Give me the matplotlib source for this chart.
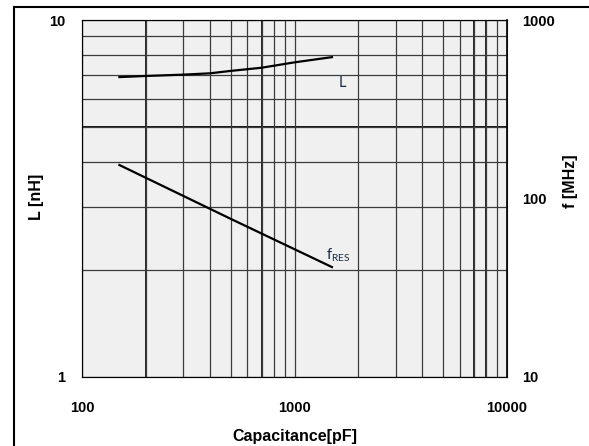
import numpy as np
import matplotlib.pyplot as plt
from matplotlib.lines import Line2D
from matplotlib.ticker import NullFormatter, LogLocator

# data
cap_L = [150, 200, 300, 400, 500, 700, 1000, 1500]
ind_L = [6.92, 6.97, 7.03, 7.09, 7.2, 7.35, 7.61, 7.87]

cap_f = [150, 500, 1500]
f_res = [154, 77, 41.3]

plt.rcParams['mathtext.fontset'] = 'custom'
plt.rcParams['mathtext.rm'] = 'Lato'

fig = plt.figure(figsize=(5.89, 4.46), dpi=100)
ax = fig.add_axes([82/589, 1 - 377/446, 425/589, 357/446])
ax2 = ax.twinx()

ax.set_facecolor('#f0f0f0')
ax.set_xscale('log')
ax.set_yscale('log')
ax.set_xlim(100, 10000)
ax.set_ylim(1, 10)
ax2.set_yscale('log')
ax2.set_ylim(10, 1000)

# ticks
tick_font = dict(family='Liberation Sans', weight='bold', size=10.5)
ax.set_xticks([100, 1000, 10000])
ax.set_xticklabels(['100', '1000', '10000'], **tick_font)
ax.set_yticks([1, 10])
ax.set_yticklabels(['1', '10'], **tick_font)
ax2.set_yticks([10, 100, 1000])
ax2.set_yticklabels(['10', '100', '1000'], **tick_font)
for a in [ax.xaxis, ax.yaxis]:
    a.set_minor_locator(LogLocator(base=10, subs=np.arange(2, 10)))
    a.set_minor_formatter(NullFormatter())
ax2.yaxis.set_minor_locator(LogLocator(base=10, subs=[]))
ax2.yaxis.set_minor_formatter(NullFormatter())
ax.tick_params(axis='both', which='both', length=0)
ax.tick_params(axis='x', pad=17)
ax.tick_params(axis='y', pad=12)
ax2.tick_params(axis='y', which='both', length=0, pad=11)

# grid
ax.grid(True, which='both', color='#3c3c3c', linewidth=0.9)
for c in [200, 700, 7000, 8000]:
    ax.axvline(c, color='black', linewidth=1.2, zorder=1.5)
ax.axhline(5, color='black', linewidth=1.3, zorder=1.5)

ax.plot(cap_L, ind_L, color='black', linewidth=1.6, zorder=3)
ax2.plot(cap_f, f_res, color='black', linewidth=1.6, zorder=3)

ax.text(1673, 6.66, 'L', fontsize=10.5, family='Lato', color='#1a2a40',
        ha='center', va='center')
ax.text(1600, 2.2, r'f$_{\mathrm{RES}}$', fontsize=10.5, family='Lato', color='#1a2a40',
        ha='center', va='center')

for s in ax.spines.values():
    s.set_color('#3c3c3c')
ax2.spines['right'].set_color('black')
ax2.spines['right'].set_linewidth(1.2)

label_font = dict(family='Liberation Sans', weight='bold', size=11.5)
ax.set_xlabel('Capacitance[pF]', labelpad=10, **label_font)
fig.text(36/589, 1 - 197/446, 'L [nH]', rotation=90, ha='center', va='center', **label_font)
fig.text(570/589, 1 - 181/446, 'f [MHz]', rotation=90, ha='center', va='center', **label_font)

# outer frame (cut off at right and bottom)
fig.add_artist(Line2D([14/589, 14/589], [0, 1 - 7/446], color='black', linewidth=1.5))
fig.add_artist(Line2D([14/589, 1], [1 - 7/446, 1 - 7/446], color='black', linewidth=1.5))

fig.savefig('out.png', dpi=100)
